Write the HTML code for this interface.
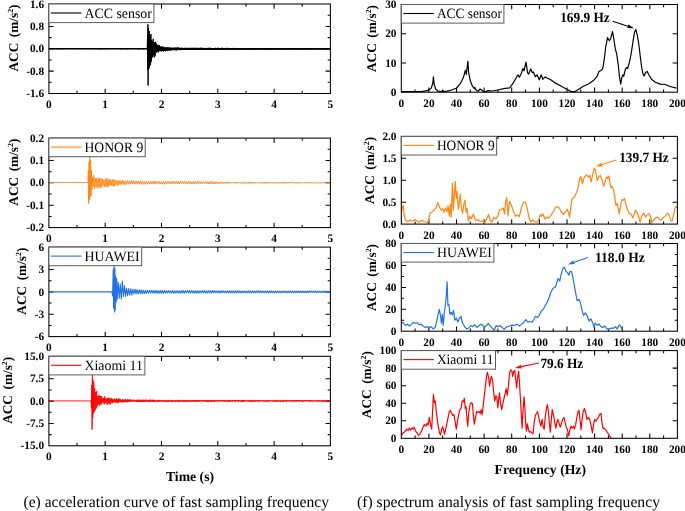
<!DOCTYPE html><html><head><meta charset="utf-8"><title>chart</title><style>html,body{margin:0;padding:0;background:#fff}svg{display:block}text{font-family:"Liberation Serif", serif;fill:#000;text-rendering:geometricPrecision}</style></head><body>
<svg width="685" height="511" viewBox="0 0 685 511">
<rect width="685" height="511" fill="#fff"/>
<clipPath id="cl0"><rect x="48.9" y="4" width="281.5" height="89.5"/></clipPath>
<path d="M105.2 93.5v-4.8M105.2 4v4.8M161.5 93.5v-4.8M161.5 4v4.8M217.8 93.5v-4.8M217.8 4v4.8M274.1 93.5v-4.8M274.1 4v4.8M77 93.5v-2.7M77 4v2.7M133.3 93.5v-2.7M133.3 4v2.7M189.7 93.5v-2.7M189.7 4v2.7M246 93.5v-2.7M246 4v2.7M302.2 93.5v-2.7M302.2 4v2.7M48.9 26.4h4.8M330.4 26.4h-4.8M48.9 48.8h4.8M330.4 48.8h-4.8M48.9 71.1h4.8M330.4 71.1h-4.8M48.9 15.2h2.7M330.4 15.2h-2.7M48.9 37.6h2.7M330.4 37.6h-2.7M48.9 59.9h2.7M330.4 59.9h-2.7M48.9 82.3h2.7M330.4 82.3h-2.7" stroke="#000" stroke-width="1.05" fill="none"/>
<line x1="48.9" y1="48.8" x2="330.4" y2="48.8" stroke="#000" stroke-width="1.5"/>
<polyline points="48.9,48.8 48.9,48.3 49.3,49 49.7,48.5 50.1,49.1 50.5,48.4 50.9,49.1 51.3,48.4 51.7,49 52.1,48.3 52.5,49.2 52.9,48.5 53.3,49.1 53.7,48.5 54.1,49.2 54.5,48.4 54.9,49 55.3,48.4 55.7,49 56.1,48.5 56.5,49.2 56.9,48.3 57.3,49.1 57.7,48.5 58.1,49.1 58.5,48.3 58.9,49.1 59.3,48.3 59.7,49.2 60.1,48.4 60.5,49.1 60.9,48.4 61.3,49.1 61.7,48.3 62.1,49.1 62.5,48.4 62.9,49.2 63.3,48.5 63.7,49.1 64.1,48.4 64.5,49.2 64.9,48.5 65.3,49 65.7,48.3 66.1,49.1 66.5,48.5 66.9,49 67.3,48.5 67.7,49.1 68.1,48.5 68.5,49 68.9,48.4 69.3,49.1 69.7,48.5 70.1,49 70.5,48.4 70.9,49.1 71.3,48.3 71.7,49.1 72.1,48.5 72.5,49.1 72.9,48.3 73.3,49.1 73.7,48.5 74.1,49 74.5,48.4 74.9,49.1 75.3,48.4 75.7,49 76.1,48.4 76.5,49.1 76.9,48.4 77.3,49.2 77.7,48.3 78.1,49 78.5,48.5 78.9,49.1 79.3,48.4 79.7,49.2 80.1,48.4 80.5,49 80.9,48.5 81.3,49.1 81.7,48.5 82.1,49.1 82.5,48.4 82.9,49 83.3,48.4 83.7,49.1 84.1,48.4 84.5,49.1 84.9,48.5 85.3,49.2 85.7,48.5 86.1,49 86.5,48.5 86.9,49 87.3,48.5 87.7,49.1 88.1,48.4 88.5,49.1 88.9,48.3 89.3,49 89.7,48.4 90.1,49.2 90.5,48.4 90.9,49.1 91.3,48.4 91.7,49.1 92.1,48.4 92.5,49.1 92.9,48.4 93.3,49.1 93.7,48.3 94.1,49.1 94.5,48.3 94.9,49.1 95.3,48.5 95.7,49 96.1,48.5 96.5,49 96.9,48.4 97.3,49 97.7,48.5 98.1,49.2 98.5,48.3 98.9,49.2 99.3,48.5 99.7,49.1 100.1,48.3 100.5,49.1 100.9,48.4 101.3,49.2 101.7,48.3 102.1,49.1 102.5,48.3 102.9,49.1 103.3,48.5 103.7,49.1 104.1,48.4 104.5,49.1 104.9,48.3 105.3,49.1 105.7,48.4 106.1,49.2 106.5,48.3 106.9,49 107.3,48.4 107.7,49.2 108.1,48.4 108.5,49 108.9,48.3 109.3,49.2 109.7,48.3 110.1,49 110.5,48.3 110.9,49 111.3,48.5 111.7,49.1 112.1,48.3 112.5,49 112.9,48.5 113.3,49.1 113.7,48.4 114.1,49.1 114.5,48.4 114.9,49.1 115.3,48.4 115.7,49.1 116.1,48.3 116.5,49.1 116.9,48.5 117.3,49 117.7,48.4 118.1,49 118.5,48.4 118.9,49 119.3,48.5 119.7,49.1 120.1,48.4 120.5,49.2 120.9,48.5 121.3,49.2 121.7,48.5 122.1,49 122.5,48.4 122.9,49.2 123.3,48.5 123.7,49 124.1,48.5 124.5,49.1 124.9,48.4 125.3,49.1 125.7,48.3 126.1,49 126.5,48.4 126.9,49.2 127.3,48.3 127.7,49.1 128.1,48.4 128.5,49.1 128.9,48.4 129.3,49 129.7,48.5 130.1,49.2 130.5,48.3 130.9,49.1 131.3,48.5 131.7,49 132.1,48.4 132.5,49.2 132.9,48.5 133.3,49 133.7,48.5 134.1,49.1 134.5,48.5 134.9,49 135.3,48.4 135.7,49 136.1,48.4 136.5,49 136.9,48.3 137.3,49.2 137.7,48.5 138.1,49.2 138.5,48.5 138.9,49.1 139.3,48.5 139.7,49.1 140.1,48.4 140.5,49.1 140.9,48.5 141.3,49.1 141.7,48.5 142.1,49 142.5,48.3 142.9,49.1 143.3,48.3 143.7,49.2 144.1,48.3 144.5,49 144.9,48.5 145.3,49 145.7,48.4 146.1,49.1 146.5,48.5 146.9,49.1 147.2,48.8 147.5,36 147.7,70 147.9,24.4 148.1,85.5 148.3,28 148.6,62 148.8,32 149.2,68.3 149.5,31 149.8,66 150.2,36.2 150.6,64.6 150.9,34 151.3,61.7 151.7,40 152.1,57.6 152.5,41.1 152.8,57.1 153.2,38.8 153.6,54.9 154,42.2 154.4,57.3 154.7,42.3 155.1,56.1 155.5,41.9 155.9,52.3 156.3,43.5 156.6,52.4 157,46.1 157.4,52 157.8,44.7 158.2,52.4 158.5,45.1 158.9,51.4 159.3,45.3 159.7,50.9 160.1,46.2 160.4,50.7 160.8,47.2 161.2,51.4 161.6,46.7 162,51.1 162.3,46.6 162.7,50.8 163.1,46.7 163.5,51.5 163.9,47.6 164.2,51.1 164.6,47.4 165,50.9 165.4,47.3 165.7,51.2 166,47.7 166.3,50.2 166.6,47.8 166.9,51 167.2,47.3 167.5,50.4 167.8,47.9 168.1,50.4 168.4,47.7 168.7,50.3 169,47.5 169.3,50.3 169.6,47.6 169.9,50.5 170.2,47.5 170.5,50.4 170.8,48 171.1,50.2 171.4,47.8 171.7,50 172,48 172.3,50.2 172.6,47.7 172.9,50.2 173.2,47.7 173.5,49.8 173.8,48 174.1,50.2 174.4,47.7 174.7,50 175,47.9 175.3,50.1 175.6,47.7 175.9,50.3 176.2,47.7 176.5,50.3 176.8,47.8 177.1,50.2 177.4,47.6 177.7,50 178,47.7 178.3,49.9 178.6,47.8 178.9,49.8 179.2,47.7 179.5,50 179.8,47.9 180.1,50.1 180.4,48 180.7,50.1 181,47.9 181.3,49.7 181.6,47.9 181.9,50 182.2,47.7 182.5,49.9 182.8,48 183.1,49.9 183.4,48 183.7,50 184,48 184.3,50 184.6,47.8 184.9,49.6 185.2,48 185.5,49.6 185.8,48 186.1,49.7 186.4,47.9 186.7,49.8 187,47.9 187.3,49.8 187.6,48 187.9,49.7 188.2,47.8 188.5,49.9 188.8,48 189.1,49.6 189.4,47.9 189.7,49.7 190,48 190.3,49.7 190.6,47.9 190.9,49.8 191.2,47.8 191.5,49.9 191.8,48 192.1,49.7 192.4,47.9 192.7,49.9 193,47.9 193.3,49.8 193.6,47.8 193.9,49.8 194.2,48 194.5,49.7 194.8,47.9 195.1,49.7 195.4,47.8 195.7,49.9 196,47.9 196.3,49.7 196.6,48 196.9,49.7 197.2,48 197.5,49.6 197.8,47.9 198.1,49.7 198.4,47.9 198.7,49.8 199,47.9 199.3,49.7 199.6,48.1 199.9,49.5 200.2,47.9 200.5,49.6 200.8,47.8 201.1,49.8 201.4,47.9 201.7,49.5 202,47.8 202.3,49.6 202.6,48.1 202.9,49.7 203.2,48 203.5,49.5 203.8,47.9 204.1,49.6 204.4,48 204.7,49.6 205,48 205.3,49.5 205.6,48.1 205.9,49.6 206.2,47.9 206.5,49.7 206.8,47.9 207.1,49.6 207.4,48 207.7,49.8 208,48 208.3,49.6 208.6,47.9 208.9,49.6 209.2,47.9 209.5,49.6 209.8,47.8 210.1,49.5 210.4,48 210.7,49.6 211,47.9 211.3,49.5 211.6,48.1 211.9,49.7 212.2,48 212.5,49.5 212.8,48 213.1,49.6 213.4,48 213.7,49.5 214,48.1 214.3,49.7 214.6,48.1 214.9,49.6 215.2,47.9 215.5,49.7 215.8,47.9 216.1,49.5 216.4,48.1 216.7,49.7 217,48 217.3,49.6 217.6,47.9 217.9,49.7 218.2,47.9 218.5,49.5 218.8,47.9 219.1,49.7 219.4,48 219.7,49.7 220,48 220.3,49.6 220.6,48.1 220.9,49.7 221.2,47.9 221.5,49.6 221.8,47.9 222.1,49.6 222.4,47.9 222.7,49.5 223,48.1 223.3,49.5 223.6,48.1 223.9,49.6 224.2,48 224.5,49.5 224.8,48.1 225.1,49.6 225.4,48 225.7,49.6 226,47.9 226.3,49.5 226.6,47.9 226.9,49.5 227.2,48 227.5,49.4 227.8,48.1 228.1,49.4 228.4,47.9 228.7,49.6 229,48 229.3,49.6 229.6,48 229.9,49.6 230.2,48 230.5,49.7 230.8,48 231.1,49.6 231.4,48 231.7,49.6 232,48.1 232.3,49.5 232.6,48 232.9,49.5 233.2,48 233.5,49.6 233.8,47.9 234.1,49.6 234.4,48.1 234.7,49.4 235,48.1 235.3,49.5 235.6,48.2 235.9,49.5 236.2,48.1 236.5,49.6 236.8,48.1 237.1,49.4 237.4,48 237.7,49.6 238,48.1 238.3,49.5 238.6,48 238.9,49.7 239.2,48 239.5,49.5 239.8,48 240.1,49.4 240.4,48.1 240.7,49.4 241,48.1 241.3,49.4 241.6,48 241.9,49.4 242.2,48.1 242.5,49.5 242.8,48.1 243.1,49.5 243.4,48.1 243.7,49.5 244,48.2 244.3,49.4 244.6,48.1 244.9,49.4 245.2,48.1 245.5,49.5 245.8,48 246.1,49.5 246.4,48.1 246.7,49.4 247,48.1 247.3,49.6 247.6,48.1 247.9,49.5 248.2,48.1 248.5,49.6 248.8,48.1 249.1,49.4 249.4,48 249.7,49.5 250,48.1 250.3,49.6 250.6,48.1 250.9,49.4 251.2,48.1 251.5,49.5 251.8,48.1 252.1,49.4 252.4,48 252.7,49.5 253,48.2 253.3,49.5 253.6,48 253.9,49.4 254.2,48.1 254.5,49.5 254.8,48.1 255.1,49.4 255.4,48 255.7,49.4 256,48.1 256.3,49.4 256.6,48 256.9,49.4 257.2,48 257.5,49.4 257.8,48 258.1,49.4 258.4,48.2 258.7,49.5 259,48 259.3,49.3 259.6,48.1 259.9,49.4 260.2,48 260.5,49.4 260.8,48.1 261.1,49.5 261.4,48.1 261.7,49.4 262,48.2 262.3,49.5 262.6,48.1 262.9,49.5 263.2,48.2 263.5,49.5 263.8,48.2 264.1,49.4 264.4,48.1 264.7,49.5 265,48.1 265.3,49.5 265.6,48 265.9,49.4 266.2,48.1 266.5,49.4 266.8,48 267.1,49.4 267.4,48.1 267.7,49.5 268,48 268.3,49.5 268.6,48.1 268.9,49.5 269.2,48 269.5,49.5 269.8,48.1 270.1,49.3 270.4,48 270.7,49.6 271,48.1 271.3,49.4 271.6,48.2 271.9,49.4 272.2,48.1 272.5,49.4 272.8,48 273.1,49.4 273.4,48 273.7,49.5 274,48.1 274.3,49.5 274.6,48 274.9,49.5 275.2,48.2 275.5,49.4 275.8,48.1 276.1,49.5 276.4,48.2 276.7,49.5 277,48.1 277.3,49.3 277.6,48.2 277.9,49.5 278.2,48.2 278.5,49.3 278.8,48.1 279.1,49.5 279.4,48.1 279.7,49.3 280,48.1 280.3,49.3 280.6,48.2 280.9,49.5 281.2,48.2 281.5,49.5 281.8,48 282.1,49.4 282.4,48 282.7,49.4 283,48 283.3,49.4 283.6,48.2 283.9,49.3 284.2,48 284.5,49.5 284.8,48.2 285.1,49.5 285.4,48.1 285.7,49.5 286,48 286.3,49.5 286.6,48.2 286.9,49.4 287.2,48.2 287.5,49.3 287.8,48.2 288.1,49.4 288.4,48.2 288.7,49.3 289,48.2 289.3,49.5 289.6,48 289.9,49.3 290.2,48.2 290.5,49.4 290.8,48.2 291.1,49.4 291.4,48.1 291.7,49.5 292,48.1 292.3,49.4 292.6,48.1 292.9,49.3 293.2,48.1 293.5,49.4 293.8,48.2 294.1,49.3 294.4,48.2 294.7,49.3 295,48.1 295.3,49.3 295.6,48.1 295.9,49.3 296.2,48.2 296.5,49.3 296.8,48 297.1,49.5 297.4,48.2 297.7,49.4 298,48.1 298.3,49.3 298.6,48 298.9,49.4 299.2,48.1 299.5,49.5 299.8,48.1 300.1,49.3 300.4,48.2 300.7,49.5 301,48.2 301.3,49.5 301.6,48.2 301.9,49.5 302.2,48.1 302.5,49.4 302.8,48.2 303.1,49.4 303.4,48.1 303.7,49.3 304,48.2 304.3,49.3 304.6,48.1 304.9,49.4 305.2,48.1 305.5,49.4 305.8,48.1 306.1,49.4 306.4,48.2 306.7,49.3 307,48.2 307.3,49.5 307.6,48.2 307.9,49.4 308.2,48.3 308.5,49.3 308.8,48.2 309.1,49.3 309.4,48.2 309.7,49.3 310,48.2 310.3,49.4 310.6,48.1 310.9,49.4 311.2,48.2 311.5,49.5 311.8,48.1 312.1,49.4 312.4,48.1 312.7,49.3 313,48.2 313.3,49.4 313.6,48.1 313.9,49.4 314.2,48.1 314.5,49.3 314.8,48.2 315.1,49.4 315.4,48.1 315.7,49.3 316,48.1 316.3,49.4 316.6,48.1 316.9,49.3 317.2,48.2 317.5,49.3 317.8,48.3 318.1,49.3 318.4,48.2 318.7,49.3 319,48.3 319.3,49.3 319.6,48.1 319.9,49.4 320.2,48.2 320.5,49.3 320.8,48.2 321.1,49.3 321.4,48.2 321.7,49.4 322,48.3 322.3,49.3 322.6,48.2 322.9,49.4 323.2,48.3 323.5,49.3 323.8,48.1 324.1,49.4 324.4,48.2 324.7,49.3 325,48.3 325.3,49.4 325.6,48.2 325.9,49.3 326.2,48.1 326.5,49.4 326.8,48.2 327.1,49.4 327.4,48.1 327.7,49.4 328,48.2 328.3,49.3 328.6,48.1 328.9,49.4 329.2,48.3 329.5,49.3 329.8,48.1 330.1,49.3 330.4,48.1 330.4,48.8" fill="none" stroke="#000" stroke-width="1.0" stroke-linejoin="round" clip-path="url(#cl0)"/>
<rect x="48.9" y="4" width="281.5" height="89.5" fill="none" stroke="#000" stroke-width="1.05"/>
<rect x="48.9" y="4" width="105" height="18.6" fill="#fff" stroke="#5c5c5c" stroke-width="1"/>
<line x1="50.9" y1="13" x2="81.5" y2="13" stroke="#000" stroke-width="1.1"/>
<clipPath id="cl1"><rect x="48.9" y="138.1" width="281.5" height="89.5"/></clipPath>
<path d="M105.2 227.6v-4.8M105.2 138.1v4.8M161.5 227.6v-4.8M161.5 138.1v4.8M217.8 227.6v-4.8M217.8 138.1v4.8M274.1 227.6v-4.8M274.1 138.1v4.8M77 227.6v-2.7M77 138.1v2.7M133.3 227.6v-2.7M133.3 138.1v2.7M189.7 227.6v-2.7M189.7 138.1v2.7M246 227.6v-2.7M246 138.1v2.7M302.2 227.6v-2.7M302.2 138.1v2.7M48.9 160.5h4.8M330.4 160.5h-4.8M48.9 182.8h4.8M330.4 182.8h-4.8M48.9 205.2h4.8M330.4 205.2h-4.8M48.9 149.3h2.7M330.4 149.3h-2.7M48.9 171.7h2.7M330.4 171.7h-2.7M48.9 194h2.7M330.4 194h-2.7M48.9 216.4h2.7M330.4 216.4h-2.7" stroke="#000" stroke-width="1.05" fill="none"/>
<polyline points="48.9,182.5 88,182.5 88.3,170 88.6,203.5 89,162 89.4,200 89.8,150 90.3,197 90.7,160 91.1,196 91.5,170 91.9,190 92.4,177.1 93.1,186.6 93.8,175.3 94.6,189.1 95.3,178.1 96,187 96.7,177.9 97.4,188.2 98.2,178.2 98.9,187.2 99.6,178.4 100.3,188.2 101,178.2 101.8,187.3 102.5,179.1 103.2,185.6 103.9,179.8 104.6,186.5 105.4,178.8 106.1,187 106.8,178.2 107.5,187.3 108.2,179.3 109,186.5 109.7,179.3 110.4,185.2 111.1,179.7 111.8,185.7 112.6,179.3 113.3,186.5 114,179.6 114.7,186.1 115.4,180 116.2,184.6 116.9,180.3 117.6,185.8 118.3,180.7 119,184.7 119.8,180.5 120.5,184.4 121.2,180.6 121.9,184.5 122.6,180.2 123.4,184.1 124.1,181 124.8,185.1 125.5,180.8 126.5,184.3 127.4,180.5 128.4,184.4 129.3,180.6 130.3,183.9 131.2,180.7 132.2,184 133.1,180.6 134.1,183.9 135,181.2 136,184.3 136.9,180.9 137.9,183.8 138.8,181.1 139.8,184.2 140.7,180.7 141.7,184.3 142.6,181.2 143.6,184.4 144.5,181.4 145.5,184.3 146.4,181.4 147.4,184.2 148.3,181.5 149.3,183.8 150.2,181.2 151.2,184 152.1,181.3 153.1,183.9 154,181.1 155,184.2 155.9,181.3 156.9,183.6 157.8,181.4 158.8,184.3 159.7,181.5 160.7,183.8 161.6,181.6 162.6,184.2 163.5,181.5 164.5,184.3 165.4,181.5 166.4,184.1 167.3,181.2 168.3,183.6 169.2,181.2 170.2,183.9 171.1,181.7 172.1,184.1 173,181.2 174,183.6 174.9,181.4 175.9,183.7 176.8,181.2 177.8,184 178.7,181.2 179.7,183.7 180.6,181.2 181.6,183.5 182.5,181.2 183.5,183.7 184.4,181.2 185.4,184 186.3,181.7 187.3,184.1 188.2,181.3 189.2,183.7 190.1,181.4 191.1,184.2 192,181.8 193,184.1 193.9,181.2 194.9,183.9 195.8,181.6 196.8,183.6 197.7,181.3 198.7,183.9 199.6,181.2 200.6,183.8 201.5,181.7 202.5,183.6 203.4,181.8 204.4,183.6 205.3,181.8 206.3,183.6 207.2,181.5 208.2,184 209.1,181.7 210.1,183.9 211,181.3 212,183.8 212.9,181.8 213.9,184 214.8,181.6 215.8,183.8 216.7,181.7 217.7,183.9 218.6,182 219.6,183.8 220.5,181.9 221.5,183.6 222.4,181.8 223.4,183.5 224.3,181.9 225.3,183.7 226.2,181.9 227.2,183.6 228.1,181.9 229.1,183.4 230,182.1 231,183.2 231.9,182.2 232.9,183.2 233.8,182 234.8,183.5 235.7,182 236.7,183.4 237.6,182.1 238.6,183.3 239.5,182.1 240.5,183.5 241.4,182 242.4,183.4 243.3,181.9 244.3,183.6 245.2,182.1 246.2,183.6 247.1,182.1 248.1,183.5 249,182 250,183.6 250.9,182 251.9,183.5 252.8,182.1 253.8,183.4 254.7,182 255.7,183.3 256.6,182 257.6,183.2 258.5,182.2 259.5,183.3 260.4,182.1 261.4,183.4 262.3,182.1 263.3,183.6 264.2,182.1 265.2,183.4 266.1,182 267.1,183.6 268,182.2 269,183.4 269.9,182.1 270.9,183.2 271.8,182.1 272.8,183.5 273.7,182.2 274.7,183.4 275.6,182 276.6,183.3 277.5,182 278.5,183.5 279.4,182.2 280.4,183.3 281.3,182 282.3,183.4 283.2,182.1 284.2,183.4 285.1,182.1 286.1,183.3 287,182 288,183.4 288.9,182.1 289.9,183.1 290.8,182 291.8,183.2 292.7,182.1 293.7,183.3 294.6,182.1 295.6,183.4 296.5,182.2 297.5,183.4 298.4,182.1 299.4,183.5 300.3,182.1 301.3,183.2 302.2,182.2 303.2,183.1 304.1,182.2 305.1,183.5 306,182.2 307,183.2 307.9,182.2 308.9,183.3 309.8,182.1 310.8,183.3 311.7,182.2 312.7,183.4 313.6,182.2 314.6,183.3 315.5,182.3 316.5,183.2 317.4,182.3 318.4,183.2 319.3,182.1 320.3,183.4 321.2,182.2 322.2,183.4 323.1,182.2 324.1,183.2 325,182.3 326,183.3 326.9,182.3 327.9,183.5 328.8,182.2 329.8,183.1 330.4,182.5" fill="none" stroke="#ff8510" stroke-width="0.85" stroke-linejoin="round" clip-path="url(#cl1)"/>
<rect x="48.9" y="138.1" width="281.5" height="89.5" fill="none" stroke="#000" stroke-width="1.05"/>
<rect x="48.9" y="138.1" width="96.3" height="18.6" fill="#fff" stroke="#5c5c5c" stroke-width="1"/>
<line x1="50.9" y1="147.1" x2="81.5" y2="147.1" stroke="#ff8510" stroke-width="1.1"/>
<clipPath id="cl2"><rect x="48.9" y="247.1" width="281.5" height="89.5"/></clipPath>
<path d="M105.2 336.6v-4.8M105.2 247.1v4.8M161.5 336.6v-4.8M161.5 247.1v4.8M217.8 336.6v-4.8M217.8 247.1v4.8M274.1 336.6v-4.8M274.1 247.1v4.8M77 336.6v-2.7M77 247.1v2.7M133.3 336.6v-2.7M133.3 247.1v2.7M189.7 336.6v-2.7M189.7 247.1v2.7M246 336.6v-2.7M246 247.1v2.7M302.2 336.6v-2.7M302.2 247.1v2.7M48.9 269.5h4.8M330.4 269.5h-4.8M48.9 291.9h4.8M330.4 291.9h-4.8M48.9 314.2h4.8M330.4 314.2h-4.8M48.9 258.3h2.7M330.4 258.3h-2.7M48.9 280.7h2.7M330.4 280.7h-2.7M48.9 303h2.7M330.4 303h-2.7M48.9 325.4h2.7M330.4 325.4h-2.7" stroke="#000" stroke-width="1.05" fill="none"/>
<polyline points="48.9,291.9 112,291.9 112.6,296 113.2,270 113.6,308 114,262 114.5,312 114.9,268 115.3,310 115.7,276 116.2,302 116.7,278.6 117.1,299.7 118.2,282.3 119.2,298.5 120.2,284 121.3,299 122.3,281 123.4,296.5 124.4,285.6 125.5,296.5 126.5,288.2 127.6,295.6 128.6,288.5 129.7,295.1 130.8,288.7 131.8,295.1 132.9,289 133.9,294 135,289.2 136,293.8 137.1,289.5 138.1,294 139.2,289.8 140.2,293.6 141.3,289.7 142.3,293.8 143.4,290.3 144.4,293.5 145.5,290.3 146.5,293.2 147.6,290.4 148.6,293.1 149.7,290.3 150.7,293.1 151.8,290.4 152.8,293 153.9,290.6 154.9,293.3 156,290.3 157,293.3 158.1,290.7 159.1,293.2 160.2,290.5 161.2,293.2 162.3,290.5 163.3,293.2 164.4,290.4 165.4,293.1 166.5,290.6 167.5,292.9 168.6,290.6 169.6,292.9 170.7,290.7 171.7,292.9 172.8,290.6 173.8,293.2 174.9,290.7 175.9,292.9 177,290.7 178,293 179.1,290.7 180.1,293.2 181.2,290.7 182.2,293 183.3,290.5 184.3,293.2 185.4,290.8 186.4,292.8 187.5,290.4 188.5,292.9 189.6,290.6 190.6,293.1 191.7,290.5 192.7,292.9 193.8,290.8 194.8,293.2 195.9,290.7 196.9,293.1 198,290.8 199,293 200.1,290.8 201.1,292.8 202.2,290.7 203.2,292.7 204.3,290.6 205.3,293.1 206.4,290.8 207.4,293.1 208.5,290.6 209.5,292.9 210.6,290.8 211.6,293 212.7,290.6 213.7,292.8 214.8,290.7 215.8,292.7 216.9,290.9 217.9,292.9 219,290.8 220,292.9 221.1,290.8 222.1,292.8 223.2,290.8 224.2,292.8 225.3,291 226.3,292.8 227.4,290.8 228.4,292.8 229.5,290.7 230.5,292.9 231.6,291 232.6,292.8 233.7,290.9 234.7,293 235.8,290.8 236.8,292.8 237.9,290.7 238.9,292.8 240,290.9 241,292.9 242.1,291 243.1,292.8 244.2,291 245.2,292.8 246.3,291 247.3,292.7 248.4,290.8 249.4,292.9 250.5,291 251.5,292.6 252.6,290.9 253.6,292.7 254.7,291 255.7,292.8 256.8,290.9 257.8,292.8 258.9,290.9 259.9,292.7 261,290.9 262,292.7 263.1,291.1 264.1,292.8 265.2,291 266.2,292.6 267.3,290.9 268.3,292.8 269.4,291.1 270.4,292.8 271.5,290.9 272.5,292.7 273.6,291.1 274.6,292.8 275.7,291 276.7,292.7 277.8,291.1 278.8,292.7 279.9,291.1 280.9,292.7 282,291 283,292.6 284.1,291.1 285.1,292.6 286.2,291 287.2,292.7 288.3,291 289.3,292.7 290.4,291.1 291.4,292.5 292.5,291 293.5,292.7 294.6,291.1 295.6,292.6 296.7,291.1 297.7,292.6 298.8,291 299.8,292.6 300.9,291.1 301.9,292.6 303,291 304,292.6 305.1,291.1 306.1,292.6 307.2,291.2 308.2,292.6 309.3,290.9 310.3,292.4 311.4,291.2 312.4,292.4 313.5,291.1 314.5,292.4 315.6,291.2 316.6,292.6 317.7,291.2 318.7,292.4 319.8,291.1 320.8,292.5 321.9,291.1 322.9,292.5 324,291 325,292.6 326.1,291.1 327.1,292.5 328.2,291.2 329.2,292.6 330.3,291.2 330.4,291.9" fill="none" stroke="#2272e2" stroke-width="1.1" stroke-linejoin="round" clip-path="url(#cl2)"/>
<rect x="48.9" y="247.1" width="281.5" height="89.5" fill="none" stroke="#000" stroke-width="1.05"/>
<rect x="48.9" y="247.1" width="92.8" height="18.6" fill="#fff" stroke="#5c5c5c" stroke-width="1"/>
<line x1="50.9" y1="256.1" x2="81.5" y2="256.1" stroke="#2272e2" stroke-width="1.1"/>
<clipPath id="cl3"><rect x="48.9" y="356.3" width="281.5" height="89.5"/></clipPath>
<path d="M105.2 445.8v-4.8M105.2 356.3v4.8M161.5 445.8v-4.8M161.5 356.3v4.8M217.8 445.8v-4.8M217.8 356.3v4.8M274.1 445.8v-4.8M274.1 356.3v4.8M77 445.8v-2.7M77 356.3v2.7M133.3 445.8v-2.7M133.3 356.3v2.7M189.7 445.8v-2.7M189.7 356.3v2.7M246 445.8v-2.7M246 356.3v2.7M302.2 445.8v-2.7M302.2 356.3v2.7M48.9 378.7h4.8M330.4 378.7h-4.8M48.9 401.1h4.8M330.4 401.1h-4.8M48.9 423.4h4.8M330.4 423.4h-4.8M48.9 367.5h2.7M330.4 367.5h-2.7M48.9 389.9h2.7M330.4 389.9h-2.7M48.9 412.2h2.7M330.4 412.2h-2.7M48.9 434.6h2.7M330.4 434.6h-2.7" stroke="#000" stroke-width="1.05" fill="none"/>
<polyline points="48.9,400.9 91,400.9 91.4,408 91.8,385 92.1,429.5 92.4,375 92.7,418 93,380 93.4,413.6 93.8,382.2 94.2,412 94.7,388.4 95.2,410.2 95.7,391.9 96.2,408.5 96.7,391.1 97.2,406.4 97.7,396.2 98.2,404 98.7,395.2 99.2,405.6 99.7,395.7 100.2,404.5 100.7,396.1 101.2,404.7 101.7,396.1 102.2,402.5 102.7,398.2 103.2,402.8 103.7,398 104.2,404.5 104.7,396.4 105.2,403.3 105.7,398.1 106.2,402.7 106.7,398.8 107.2,404.8 107.7,398.1 108.2,403.1 108.7,397.8 109.2,404.2 109.7,397.7 110.2,404.2 110.7,399.1 111.2,402.3 111.7,398 112.2,403.4 112.7,399.2 113.2,402.7 113.7,399.3 114.2,402.1 114.7,398.7 115.2,402.7 115.7,399.1 116.2,402.6 116.7,398.4 117.2,402.7 117.7,399.6 118.2,403 118.7,398.4 119.2,402.1 119.7,398.9 120.2,402.1 120.7,399.3 121.2,402.2 121.7,400.1 122.2,402.3 122.7,399.3 123.2,402.3 123.7,399.7 124.2,402.2 124.7,399.4 125.2,401.7 125.6,399.4 126,401.8 126.4,400.1 126.8,402.2 127.2,399.2 127.6,402.1 128,400 128.4,401.7 128.8,399.5 129.2,401.9 129.6,399.6 130,401.8 130.4,399.5 130.8,401.5 131.2,400.3 131.6,401.3 132,400.2 132.4,401.3 132.8,399.5 133.2,401.9 133.6,400.4 134,401.5 134.4,399.9 134.8,401.3 135.2,400.1 135.6,401.4 136,399.8 136.4,401.9 136.8,399.9 137.2,402 137.6,399.9 138,401.3 138.4,399.9 138.8,402.1 139.2,399.6 139.6,401.9 140,400.2 140.4,401.8 140.8,399.8 141.2,402 141.6,400.4 142,401.7 142.4,399.8 142.8,402 143.2,399.7 143.6,401.9 144,400.2 144.4,401.9 144.8,399.7 145.2,401.7 145.6,399.8 146,401.3 146.4,399.8 146.8,401.6 147.2,400.3 147.6,401.7 148,400.4 148.4,401.7 148.8,399.9 149.2,401.7 149.6,399.7 150,401.7 150.4,399.9 150.8,401.3 151.2,400.3 151.6,401.6 152,399.7 152.4,401.8 152.8,399.9 153.2,401.8 153.6,399.9 154,401.3 154.4,399.8 154.8,401.9 155.2,400.4 155.6,401.6 156,400.5 156.4,401.7 156.8,400.4 157.2,401.5 157.6,400.3 158,401.4 158.4,400.1 158.8,401.9 159.2,399.9 159.6,401.3 160,400.4 160.4,401.3 160.8,400 161.2,401.5 161.6,400.4 162,401.5 162.4,400.4 162.8,401.6 163.2,400.3 163.6,401.5 164,400 164.4,401.3 164.8,400.5 165.2,401.9 165.6,400.5 166,401.3 166.4,400.3 166.8,401.9 167.2,400.4 167.6,401.8 168,400.5 168.4,401.4 168.8,399.9 169.2,401.8 169.6,400.3 170,401.5 170.4,400.4 170.8,401.3 171.2,400 171.6,401.9 172,400.5 172.4,401.9 172.8,400.4 173.2,401.8 173.6,400.4 174,401.4 174.4,400.4 174.8,401.5 175.2,400.4 175.6,401.8 176,400.3 176.4,401.7 176.8,400.5 177.2,401.4 177.6,400.2 178,401.5 178.4,399.9 178.8,401.9 179.2,400.3 179.6,401.6 180,400.4 180.4,401.5 180.8,400 181.2,401.6 181.6,400.4 182,401.5 182.4,399.9 182.8,401.3 183.2,400.4 183.6,401.8 184,400.2 184.4,401.6 184.8,400.4 185.2,401.7 185.6,400.1 186,401.6 186.4,400.5 186.8,401.8 187.2,400 187.6,401.5 188,400.5 188.4,401.5 188.8,400.2 189.2,401.3 189.6,400.4 190,401.8 190.4,400.5 190.8,401.7 191.2,400.1 191.6,401.3 192,400.2 192.4,401.3 192.8,400 193.2,401.3 193.6,400 194,401.8 194.4,400.2 194.8,401.6 195.2,400.3 195.6,401.3 196,400.4 196.4,401.9 196.8,400.1 197.2,401.5 197.6,400.2 198,401.4 198.4,400.2 198.8,401.8 199.2,400.1 199.6,401.3 200,400.1 200.4,401.4 200.8,400.5 201.2,401.4 201.6,400.3 202,401.5 202.4,400.1 202.8,401.3 203.2,400.2 203.6,401.3 204,400.1 204.4,401.3 204.8,400.4 205.2,401.5 205.6,400.2 206,401.8 206.4,400.4 206.8,401.6 207.2,400.3 207.6,401.8 208,400 208.4,401.8 208.8,400.4 209.2,401.7 209.6,400.5 210,401.6 210.4,400.3 210.8,401.6 211.2,400.3 211.6,401.8 212,400.2 212.4,401.2 212.8,400.1 213.2,401.4 213.6,400.1 214,401.7 214.4,400 214.8,401.8 215.2,400.5 215.6,401.3 216,400.4 216.4,401.3 216.8,400.5 217.2,401.7 217.6,400.3 218,401.5 218.4,400.3 218.8,401.2 219.2,400.4 219.6,401.2 220,400 220.4,401.4 220.8,400.4 221.2,401.4 221.6,400.3 222,401.3 222.4,400.1 222.8,401.2 223.2,400.2 223.6,401.5 224,400.5 224.4,401.4 224.8,400.1 225.2,401.7 225.6,400.2 226,401.4 226.4,400.5 226.8,401.3 227.2,400.2 227.6,401.6 228,400.4 228.4,401.6 228.8,400.2 229.2,401.8 229.6,400.1 230,401.5 230.4,400.4 230.8,401.4 231.2,400.2 231.6,401.2 232,400.3 232.4,401.7 232.8,400 233.2,401.2 233.6,400.5 234,401.2 234.4,400.3 234.8,401.6 235.2,400 235.6,401.7 236,400.1 236.4,401.2 236.8,400.5 237.2,401.3 237.6,400.1 238,401.7 238.4,400.2 238.8,401.2 239.2,400.1 239.6,401.3 240,400.4 240.4,401.5 240.8,400.5 241.2,401.6 241.6,400.3 242,401.7 242.4,400 242.8,401.8 243.2,400.2 243.6,401.7 244,400 244.4,401.2 244.8,400.2 245.2,401.3 245.6,400.4 246,401.4 246.4,400.4 246.8,401.2 247.2,400.5 247.6,401.4 248,400.3 248.4,401.4 248.8,400.4 249.2,401.5 249.6,400.3 250,401.7 250.4,400.5 250.8,401.5 251.2,400 251.6,401.7 252,400.5 252.4,401.6 252.8,400.2 253.2,401.4 253.6,400.5 254,401.6 254.4,400.2 254.8,401.5 255.2,400 255.6,401.3 256,400 256.4,401.2 256.8,400.1 257.2,401.7 257.6,400.5 258,401.3 258.4,400.1 258.8,401.5 259.2,400.3 259.6,401.3 260,400.1 260.4,401.3 260.8,400.6 261.2,401.4 261.6,400.5 262,401.2 262.4,400.2 262.8,401.3 263.2,400.5 263.6,401.4 264,400.1 264.4,401.4 264.8,400.5 265.2,401.6 265.6,400.4 266,401.2 266.4,400.3 266.8,401.8 267.2,400.4 267.6,401.6 268,400.5 268.4,401.4 268.8,400.2 269.2,401.2 269.6,400.4 270,401.6 270.4,400.5 270.8,401.2 271.2,400.5 271.6,401.2 272,400.4 272.4,401.4 272.8,400.4 273.2,401.5 273.6,400.6 274,401.6 274.4,400.1 274.8,401.3 275.2,400.3 275.6,401.4 276,400.4 276.4,401.6 276.8,400.1 277.2,401.7 277.6,400.4 278,401.2 278.4,400.4 278.8,401.7 279.2,400.6 279.6,401.3 280,400.3 280.4,401.8 280.8,400.5 281.2,401.4 281.6,400.4 282,401.7 282.4,400.4 282.8,401.7 283.2,400.3 283.6,401.7 284,400.2 284.4,401.2 284.8,400.4 285.2,401.3 285.6,400.2 286,401.5 286.4,400.4 286.8,401.7 287.2,400.3 287.6,401.2 288,400.4 288.4,401.2 288.8,400.2 289.2,401.3 289.6,400.5 290,401.3 290.4,400.3 290.8,401.6 291.2,400.1 291.6,401.2 292,400.5 292.4,401.6 292.8,400.4 293.2,401.5 293.6,400.4 294,401.3 294.4,400.2 294.8,401.4 295.2,400.2 295.6,401.4 296,400.1 296.4,401.6 296.8,400.2 297.2,401.2 297.6,400.1 298,401.3 298.4,400.1 298.8,401.2 299.2,400.1 299.6,401.7 300,400.2 300.4,401.2 300.8,400.4 301.2,401.2 301.6,400.3 302,401.7 302.4,400.2 302.8,401.5 303.2,400.6 303.6,401.6 304,400.2 304.4,401.2 304.8,400.1 305.2,401.2 305.6,400.2 306,401.4 306.4,400.4 306.8,401.2 307.2,400.1 307.6,401.2 308,400.2 308.4,401.3 308.8,400.1 309.2,401.3 309.6,400.2 310,401.6 310.4,400.1 310.8,401.5 311.2,400.2 311.6,401.2 312,400.4 312.4,401.5 312.8,400.6 313.2,401.6 313.6,400.2 314,401.2 314.4,400.6 314.8,401.3 315.2,400.6 315.6,401.7 316,400.5 316.4,401.3 316.8,400.4 317.2,401.2 317.6,400.1 318,401.6 318.4,400.2 318.8,401.4 319.2,400.4 319.6,401.4 320,400.3 320.4,401.3 320.8,400.5 321.2,401.3 321.6,400.1 322,401.6 322.4,400.2 322.8,401.6 323.2,400.4 323.6,401.6 324,400.4 324.4,401.5 324.8,400.3 325.2,401.3 325.6,400.6 326,401.6 326.4,400.3 326.8,401.2 327.2,400.2 327.6,401.7 328,400.2 328.4,401.2 328.8,400.5 329.2,401.2 329.6,400.3 330,401.7 330.4,400.2 330.4,400.9" fill="none" stroke="#ff0000" stroke-width="0.9" stroke-linejoin="round" clip-path="url(#cl3)"/>
<rect x="48.9" y="356.3" width="281.5" height="89.5" fill="none" stroke="#000" stroke-width="1.05"/>
<rect x="48.9" y="356.3" width="96" height="18.6" fill="#fff" stroke="#5c5c5c" stroke-width="1"/>
<line x1="50.9" y1="365.3" x2="81.5" y2="365.3" stroke="#ff0000" stroke-width="1.1"/>
<clipPath id="cr0"><rect x="401.3" y="4.5" width="276.1" height="88.2"/></clipPath>
<path d="M428.9 92.2v-4.8M428.9 4.5v4.8M456.5 92.2v-4.8M456.5 4.5v4.8M484.1 92.2v-4.8M484.1 4.5v4.8M511.7 92.2v-4.8M511.7 4.5v4.8M539.4 92.2v-4.8M539.4 4.5v4.8M567 92.2v-4.8M567 4.5v4.8M594.6 92.2v-4.8M594.6 4.5v4.8M622.2 92.2v-4.8M622.2 4.5v4.8M649.8 92.2v-4.8M649.8 4.5v4.8M415.1 92.2v-2.7M415.1 4.5v2.7M442.7 92.2v-2.7M442.7 4.5v2.7M470.3 92.2v-2.7M470.3 4.5v2.7M497.9 92.2v-2.7M497.9 4.5v2.7M525.5 92.2v-2.7M525.5 4.5v2.7M553.2 92.2v-2.7M553.2 4.5v2.7M580.8 92.2v-2.7M580.8 4.5v2.7M608.4 92.2v-2.7M608.4 4.5v2.7M636 92.2v-2.7M636 4.5v2.7M663.6 92.2v-2.7M663.6 4.5v2.7M401.3 33.7h4.8M677.4 33.7h-4.8M401.3 63h4.8M677.4 63h-4.8" stroke="#000" stroke-width="1.05" fill="none"/>
<polyline points="401.3,91.6 421.5,91.6 428.3,90.4 431.3,88 432.8,83.2 433.4,76.9 434.2,84.1 435.6,89 438.1,91.2 442,91.6 442.8,90.4 443.6,91.6 446.9,91.2 451.8,90 456.7,88 460.6,83.2 463.5,77.3 465.3,70.4 466.3,74.4 467.9,61.3 468.6,72.4 470.4,81.2 472.4,86.1 474.3,88.5 474.9,87.5 476.3,90.4 478.2,91.2 480.2,89 481.7,90 483.1,91.2 486,91.6 488,90.6 492,91 497.8,90 503.7,88.6 509.6,87.9 512.5,84.1 515.4,79.3 518,74.8 519.4,77.3 521.3,73.4 522.9,68.5 524,70.8 526,62.2 527.6,72.8 528.7,74 530.7,68.9 532.3,72.8 533.4,72 535.4,76.7 537,74.8 539.3,79.8 541.3,74.8 542.8,79.3 545.2,76.9 547.7,78.3 550.7,79.8 554.6,82.6 560.5,85.7 566.3,89 571.2,91.6 575.1,91.6 580,88.5 583,86.5 588.9,83.8 593.8,80.2 597.1,76.3 599,71.4 601,70.5 602.6,68.9 604.1,60.7 605.7,47 607.5,37.6 609.4,40.7 610.8,38.2 612.5,31.7 613.7,38.2 615.3,48.9 616.7,53.8 618.2,64.6 619.6,77.3 620.8,84.1 621.7,77.9 622.9,74.8 623.7,76.3 625.3,69.5 626.4,67.5 627.6,68.5 629.6,61.6 631.3,52.8 632.9,42.1 634.5,32.3 635.8,29.4 637.2,34.8 638.8,44 640.3,56.8 641.7,67.5 642.9,73.4 644.1,75.9 645.6,72.4 647.2,71.4 648.8,74.8 651.5,79.3 655.4,82.2 660.3,84.1 665.2,84.5 670.1,86.5 676.5,88.1" fill="none" stroke="#000" stroke-width="1.2" stroke-linejoin="round" clip-path="url(#cr0)"/>
<rect x="401.3" y="4.5" width="276.1" height="87.7" fill="none" stroke="#000" stroke-width="1.05"/>
<rect x="401.3" y="4.5" width="102.6" height="18.6" fill="#fff" stroke="#5c5c5c" stroke-width="1"/>
<line x1="403.3" y1="13.5" x2="433.9" y2="13.5" stroke="#000" stroke-width="1.1"/>
<clipPath id="cr1"><rect x="401.3" y="136.4" width="276.1" height="88.2"/></clipPath>
<path d="M428.9 224.1v-4.8M428.9 136.4v4.8M456.5 224.1v-4.8M456.5 136.4v4.8M484.1 224.1v-4.8M484.1 136.4v4.8M511.7 224.1v-4.8M511.7 136.4v4.8M539.4 224.1v-4.8M539.4 136.4v4.8M567 224.1v-4.8M567 136.4v4.8M594.6 224.1v-4.8M594.6 136.4v4.8M622.2 224.1v-4.8M622.2 136.4v4.8M649.8 224.1v-4.8M649.8 136.4v4.8M415.1 224.1v-2.7M415.1 136.4v2.7M442.7 224.1v-2.7M442.7 136.4v2.7M470.3 224.1v-2.7M470.3 136.4v2.7M497.9 224.1v-2.7M497.9 136.4v2.7M525.5 224.1v-2.7M525.5 136.4v2.7M553.2 224.1v-2.7M553.2 136.4v2.7M580.8 224.1v-2.7M580.8 136.4v2.7M608.4 224.1v-2.7M608.4 136.4v2.7M636 224.1v-2.7M636 136.4v2.7M663.6 224.1v-2.7M663.6 136.4v2.7M401.3 158.3h4.8M677.4 158.3h-4.8M401.3 180.2h4.8M677.4 180.2h-4.8M401.3 202.2h4.8M677.4 202.2h-4.8" stroke="#000" stroke-width="1.05" fill="none"/>
<polyline points="401.3,212.2 402.3,208.3 403.3,205.3 404.3,216.1 405.8,220.4 407.8,221.6 409.7,220 411.7,221.2 413.7,220.4 415.6,219.6 417.6,221.6 419.5,222 421.5,220.4 423.4,221.2 425.4,222 427.4,222.4 428.7,220 429.9,213.2 432.2,211.8 434.2,210.2 436.2,207.3 437.9,202.4 439.5,207.3 441.1,210.2 442.6,208.7 444,212.2 445.4,207.9 446.9,211.8 448.1,205.9 449.3,216.1 450.4,204.4 451.2,217.1 452.4,183.2 453.4,210.2 454.4,194.6 455.3,181.3 456.3,198.5 457.1,191.6 458.3,209.3 459.2,202.4 460.2,194.2 461.4,208.3 462.6,213.2 463.8,204.4 464.9,200.1 466.1,212.2 467.1,208.3 468.4,221 470,216.1 471.4,219 473.3,214.1 474.9,219 476.3,220.4 478.2,219.6 480.2,221.6 483.1,221 484.7,223 486.5,219 488.6,214.5 490,220 492,222 493.9,217.1 495.9,219 497.8,216.1 499.4,210.2 501.4,209.3 503.3,207.9 504.5,214.1 505.7,201.4 506.8,197.5 508,215.7 509.6,201.4 511.1,204.4 513.5,211.2 515.4,216.1 517.4,215.1 519.4,216.5 521.3,208.3 523.3,202.4 525.6,202 527.2,208.3 529.1,218.1 530.7,222 532.7,220 534.6,221.6 536.6,222.4 538.5,220.4 540.5,214.5 541.7,216.1 542.8,213.8 544.8,219 546.8,217.1 548.7,218.1 551.1,215.1 553.6,211.2 555.6,207.3 557.5,206.7 559.5,208.3 561.4,212.2 563.4,214.5 565.3,212.2 567.3,209.3 568.7,213.2 569.6,217.1 570.8,207.3 572.2,198.5 574.1,197.5 576.1,193.6 578.1,187.7 579.6,178.9 581,176.6 582.4,183.8 583.6,179 584.6,177 586.5,175 588.5,177 589.8,175.4 591.2,181.9 592.8,174 594.4,168.2 595.5,170.1 597.1,180.5 598.7,177 600.2,175.4 601.8,178.9 603.7,186.4 605.3,181.3 606.5,177 607.9,178.5 608.8,176 610,182.8 610.8,187.7 612,186.4 613.5,189.7 614.7,196.5 615.9,205.3 617.2,203.4 618.2,208.3 619.2,214.1 620.6,205.3 621.7,199.5 623.1,200.5 624.5,198.5 626.1,205.3 627.6,210.2 629,213.2 631,214.1 632.9,218.1 635.4,210.2 637.4,213.2 638.8,217.1 640.1,222.4 641.7,216.1 643.7,213.2 645.6,217.1 647.6,214.5 649.1,213.8 650.7,217.1 651.9,223 653.5,220 655.4,218.1 657.4,217.1 659.3,219 660.9,220.4 662.8,218.1 665.2,216.1 667.5,213.2 669.1,215.1 670.7,220.4 672,221 673.4,216.1 675,208.3 676.2,206.3 677,208" fill="none" stroke="#ff8510" stroke-width="1.2" stroke-linejoin="round" clip-path="url(#cr1)"/>
<rect x="401.3" y="136.4" width="276.1" height="87.7" fill="none" stroke="#000" stroke-width="1.05"/>
<rect x="401.3" y="136.4" width="95.3" height="18.6" fill="#fff" stroke="#5c5c5c" stroke-width="1"/>
<line x1="403.3" y1="145.4" x2="433.9" y2="145.4" stroke="#ff8510" stroke-width="1.1"/>
<clipPath id="cr2"><rect x="401.3" y="243.5" width="276.1" height="88.2"/></clipPath>
<path d="M428.9 331.2v-4.8M428.9 243.5v4.8M456.5 331.2v-4.8M456.5 243.5v4.8M484.1 331.2v-4.8M484.1 243.5v4.8M511.7 331.2v-4.8M511.7 243.5v4.8M539.4 331.2v-4.8M539.4 243.5v4.8M567 331.2v-4.8M567 243.5v4.8M594.6 331.2v-4.8M594.6 243.5v4.8M622.2 331.2v-4.8M622.2 243.5v4.8M649.8 331.2v-4.8M649.8 243.5v4.8M415.1 331.2v-2.7M415.1 243.5v2.7M442.7 331.2v-2.7M442.7 243.5v2.7M470.3 331.2v-2.7M470.3 243.5v2.7M497.9 331.2v-2.7M497.9 243.5v2.7M525.5 331.2v-2.7M525.5 243.5v2.7M553.2 331.2v-2.7M553.2 243.5v2.7M580.8 331.2v-2.7M580.8 243.5v2.7M608.4 331.2v-2.7M608.4 243.5v2.7M636 331.2v-2.7M636 243.5v2.7M663.6 331.2v-2.7M663.6 243.5v2.7M401.3 265.4h4.8M677.4 265.4h-4.8M401.3 287.4h4.8M677.4 287.4h-4.8M401.3 309.3h4.8M677.4 309.3h-4.8M401.3 254.5h2.7M677.4 254.5h-2.7M401.3 276.4h2.7M677.4 276.4h-2.7M401.3 298.3h2.7M677.4 298.3h-2.7M401.3 320.2h2.7M677.4 320.2h-2.7" stroke="#000" stroke-width="1.05" fill="none"/>
<polyline points="401.3,322.1 403.5,323.1 405.4,325.5 407.4,324.1 409.4,326 411.3,324.7 413.3,322.3 415.2,323.5 417.2,322.7 419.1,324.7 421.1,324.1 423,326 425.4,327.4 427.4,326.6 429.3,328.2 431.3,326.6 433.2,329 435.2,327.4 436.7,321.1 438.1,314.3 439.3,309.4 440.5,315.3 441.4,323.1 442.4,314.3 443.2,325.1 444.2,314.3 445.4,304.5 446.3,295.7 447.1,281.6 447.9,305.5 448.9,304.5 449.9,314.3 451.2,312.3 452.4,314.9 453.6,310.4 454.8,320.2 456.3,318.2 457.9,322.1 459.4,318.2 461,316.3 462.2,322.1 463.6,324.7 465.1,327.4 466.9,329 468.8,328 470.8,325.5 472.8,326.6 474.7,324.7 476.7,327.4 478.6,326 480.6,324.1 482.5,325.1 484.5,327.4 486.5,325.5 488.4,323.5 490.4,326 492.3,328.3 494.3,330.2 496.1,325.7 498.2,326.6 500.2,325.5 502.1,327.4 504.1,329.4 506.6,327 509.6,326 511.9,325.1 514.5,325.5 517,324.1 519.4,326 521.7,324.1 523.7,322.7 525.8,319.6 527.8,322.1 530.1,321.5 532.1,322.3 534,319.2 535.4,316.3 537.4,317.6 539.3,315.3 541.3,311 543.2,309.4 545.2,305.5 547.1,302.6 549.1,297.7 551.1,291.8 553,288.3 555,287.5 556.5,284 558.1,278.5 559.7,281 561.2,274.2 562.8,268.3 564.4,267.3 565.9,271.2 567.5,272.6 568.9,275.2 570.2,271.2 571.6,271.8 573.2,279.1 575.1,289.8 577.1,300.6 579,299.6 580.4,302.6 582,310.4 583.5,315.3 585.3,312.9 587,315.3 588.9,321 590.8,318.8 592.8,323.1 594,327.4 595.1,323.1 597.1,325.1 599,324.1 601,326.6 603,327.4 604.9,326 606.9,328.6 608.8,329.4 611.4,328 613.9,328.2 615.5,326.6 617.1,329 618.6,326 619.8,325.1 621.4,327.4 621.7,329" fill="none" stroke="#2272e2" stroke-width="1.2" stroke-linejoin="round" clip-path="url(#cr2)"/>
<rect x="401.3" y="243.5" width="276.1" height="87.7" fill="none" stroke="#000" stroke-width="1.05"/>
<rect x="401.3" y="243.5" width="92.6" height="18.6" fill="#fff" stroke="#5c5c5c" stroke-width="1"/>
<line x1="403.3" y1="252.5" x2="433.9" y2="252.5" stroke="#2272e2" stroke-width="1.1"/>
<clipPath id="cr3"><rect x="401.3" y="350.6" width="276.1" height="88.2"/></clipPath>
<path d="M428.9 438.3v-4.8M428.9 350.6v4.8M456.5 438.3v-4.8M456.5 350.6v4.8M484.1 438.3v-4.8M484.1 350.6v4.8M511.7 438.3v-4.8M511.7 350.6v4.8M539.4 438.3v-4.8M539.4 350.6v4.8M567 438.3v-4.8M567 350.6v4.8M594.6 438.3v-4.8M594.6 350.6v4.8M622.2 438.3v-4.8M622.2 350.6v4.8M649.8 438.3v-4.8M649.8 350.6v4.8M415.1 438.3v-2.7M415.1 350.6v2.7M442.7 438.3v-2.7M442.7 350.6v2.7M470.3 438.3v-2.7M470.3 350.6v2.7M497.9 438.3v-2.7M497.9 350.6v2.7M525.5 438.3v-2.7M525.5 350.6v2.7M553.2 438.3v-2.7M553.2 350.6v2.7M580.8 438.3v-2.7M580.8 350.6v2.7M608.4 438.3v-2.7M608.4 350.6v2.7M636 438.3v-2.7M636 350.6v2.7M663.6 438.3v-2.7M663.6 350.6v2.7M401.3 368.1h4.8M677.4 368.1h-4.8M401.3 385.7h4.8M677.4 385.7h-4.8M401.3 403.2h4.8M677.4 403.2h-4.8M401.3 420.8h4.8M677.4 420.8h-4.8" stroke="#000" stroke-width="1.05" fill="none"/>
<polyline points="401.3,436 402.9,433 404.8,431.7 406.8,429.1 408.2,430.5 409.4,428.1 410.7,430.1 412.1,427.8 413.3,429.1 414.2,427.2 415.6,431.1 417.2,433 418.5,435.6 419.9,434.4 421.5,431.1 423,427.2 424.4,424.6 425.8,426.2 427,423.3 428.1,425.2 429.3,417.4 430.5,424.2 431.7,429.1 432.6,410.5 433.4,394.5 434.4,402.7 435.2,400.8 436.2,410.5 437.1,418.4 438.3,426.2 439.5,433 440.5,435 441.4,430.1 442.6,426.6 443.6,430.1 444.6,434.4 445.7,429.1 446.9,423.3 448.1,417.4 449.3,411.5 450.4,410.5 451.6,413.5 452.8,415.4 454,414.5 455.1,421.3 456.3,429.1 457.5,421.3 458.7,414.5 459.8,409.6 461,408.6 462.2,400.8 463.4,401.7 464.3,398.4 465.3,408.6 466.1,406.6 466.9,418.4 467.7,426.2 468.8,412.5 470,404.7 471.2,402.7 472.4,403.7 473.3,414.5 474.3,424.2 475.5,417.4 476.7,411.5 477.8,412.5 479,411.5 480.2,413.5 481.2,409.6 482.1,414.8 483.3,404.7 484.5,393.9 485.7,383.1 486.7,375.3 487.4,372.4 488.4,376.3 489.6,386.1 490.8,378.2 491.5,376.3 492.7,381.2 493.7,392.4 494.7,401.2 495.8,395.9 496.8,396.8 497.8,407.6 499.4,392.9 500.6,403.7 501.7,409.6 502.9,403.7 504.1,397.8 505.3,392.9 506.2,388.6 507.2,395.3 508.4,386.1 509.6,373.4 510.7,369.8 511.9,371 512.7,376.3 513.7,371.4 514.7,370.4 515.6,378.2 516.6,388 517.6,377.3 518.6,371.4 519.4,381.2 520.3,396.8 521.3,414.5 522.1,428.1 523.1,408.6 524.1,396.8 524.8,406.6 525.6,422.3 526.4,431.1 527.4,423.8 528.4,429.1 529.3,432.1 530.7,431.7 531.9,433 533.1,433.6 534.2,422.3 535.4,415.4 536.6,413.5 537.6,411.5 538.7,417.4 539.9,422.3 540.9,426.2 542.1,419.3 543.2,427.2 544.2,429.1 545.2,417.4 546.4,408.6 547.3,404.7 548.3,410.5 549.3,422.3 550.3,432.1 551.3,420.3 552.2,409.6 553.4,414.5 554.6,421.3 555.8,428.1 556.9,422.3 557.9,419.3 559.1,423.3 560.3,427.2 561.4,423.3 562.8,419.3 564,417.4 565.1,422.3 566.3,427.2 567.5,430.1 568.7,436 569.8,430.1 571,426.2 572.2,428.1 573.4,426.2 574.5,429.1 575.7,424.2 576.9,417.4 578.1,411.5 579,410.5 580,419.3 581,429.7 582,420.3 583.2,411.5 584.5,408.6 585.7,412.5 586.9,419.3 588.5,417.4 589.8,419.3 591.2,426.2 592.4,433 593.6,424.2 594.7,419.3 595.9,421.3 597.1,419.3 598.7,416.8 600,414.1 601,413.5 601.8,421.3 603,428.5 604.1,428.1 605.5,429.7 607.5,432.5 609.4,435.6 611.4,438.3" fill="none" stroke="#ff0000" stroke-width="1.2" stroke-linejoin="round" clip-path="url(#cr3)"/>
<rect x="401.3" y="350.6" width="276.1" height="87.7" fill="none" stroke="#000" stroke-width="1.05"/>
<rect x="401.3" y="350.6" width="94.2" height="18.6" fill="#fff" stroke="#5c5c5c" stroke-width="1"/>
<line x1="403.3" y1="359.6" x2="433.9" y2="359.6" stroke="#ff0000" stroke-width="1.1"/>
<line x1="612.7" y1="21.3" x2="627.8" y2="26.2" stroke="#000" stroke-width="1.1"/>
<polygon points="634,28.2 627.2,28 628.4,24.4" fill="#000"/>
<line x1="616.3" y1="160" x2="601.9" y2="164.6" stroke="#ff8510" stroke-width="1.1"/>
<polygon points="595.7,166.6 601.3,162.8 602.5,166.4" fill="#ff8510"/>
<line x1="587.8" y1="257.5" x2="574" y2="262.3" stroke="#2272e2" stroke-width="1.1"/>
<polygon points="567.9,264.4 573.4,260.5 574.7,264.1" fill="#2272e2"/>
<line x1="538.9" y1="363" x2="521.4" y2="366.6" stroke="#ff0000" stroke-width="1.1"/>
<polygon points="515,367.9 521,364.7 521.7,368.5" fill="#ff0000"/>
<defs><filter id="nf" filterUnits="userSpaceOnUse" x="0" y="0" width="685" height="511" color-interpolation-filters="sRGB"><feColorMatrix type="saturate" values="1"/></filter></defs>
<g filter="url(#nf)">
<text x="84.5" y="17.8" font-size="14.2" textLength="67.4" lengthAdjust="spacingAndGlyphs">ACC sensor</text>
<text x="48.9" y="107.9" font-size="11.3" font-weight="bold" text-anchor="middle">0</text>
<text x="105.2" y="107.9" font-size="11.3" font-weight="bold" text-anchor="middle">1</text>
<text x="161.5" y="107.9" font-size="11.3" font-weight="bold" text-anchor="middle">2</text>
<text x="217.8" y="107.9" font-size="11.3" font-weight="bold" text-anchor="middle">3</text>
<text x="274.1" y="107.9" font-size="11.3" font-weight="bold" text-anchor="middle">4</text>
<text x="330.4" y="107.9" font-size="11.3" font-weight="bold" text-anchor="middle">5</text>
<text x="44.1" y="7.6" font-size="11.3" font-weight="bold" text-anchor="end">1.6</text>
<text x="44.1" y="30" font-size="11.3" font-weight="bold" text-anchor="end">0.8</text>
<text x="44.1" y="52.4" font-size="11.3" font-weight="bold" text-anchor="end">0.0</text>
<text x="44.1" y="74.7" font-size="11.3" font-weight="bold" text-anchor="end">-0.8</text>
<text x="44.1" y="97.1" font-size="11.3" font-weight="bold" text-anchor="end">-1.6</text>
<text transform="translate(17.5 4.5) rotate(-90)" font-size="13.3" word-spacing="2.2" font-weight="bold" text-anchor="end">ACC (m/s<tspan font-size="7.8" dy="-5">2</tspan><tspan dy="5">)</tspan></text>
<text x="84.5" y="151.9" font-size="14.2" textLength="58.7" lengthAdjust="spacingAndGlyphs">HONOR 9</text>
<text x="48.9" y="242" font-size="11.3" font-weight="bold" text-anchor="middle">0</text>
<text x="105.2" y="242" font-size="11.3" font-weight="bold" text-anchor="middle">1</text>
<text x="161.5" y="242" font-size="11.3" font-weight="bold" text-anchor="middle">2</text>
<text x="217.8" y="242" font-size="11.3" font-weight="bold" text-anchor="middle">3</text>
<text x="274.1" y="242" font-size="11.3" font-weight="bold" text-anchor="middle">4</text>
<text x="330.4" y="242" font-size="11.3" font-weight="bold" text-anchor="middle">5</text>
<text x="44.1" y="141.7" font-size="11.3" font-weight="bold" text-anchor="end">0.2</text>
<text x="44.1" y="164.1" font-size="11.3" font-weight="bold" text-anchor="end">0.1</text>
<text x="44.1" y="186.4" font-size="11.3" font-weight="bold" text-anchor="end">0.0</text>
<text x="44.1" y="208.8" font-size="11.3" font-weight="bold" text-anchor="end">-0.1</text>
<text x="44.1" y="231.2" font-size="11.3" font-weight="bold" text-anchor="end">-0.2</text>
<text transform="translate(17.5 138.6) rotate(-90)" font-size="13.3" word-spacing="2.2" font-weight="bold" text-anchor="end">ACC (m/s<tspan font-size="7.8" dy="-5">2</tspan><tspan dy="5">)</tspan></text>
<text x="84.5" y="260.9" font-size="14.2" textLength="55.2" lengthAdjust="spacingAndGlyphs">HUAWEI</text>
<text x="48.9" y="351" font-size="11.3" font-weight="bold" text-anchor="middle">0</text>
<text x="105.2" y="351" font-size="11.3" font-weight="bold" text-anchor="middle">1</text>
<text x="161.5" y="351" font-size="11.3" font-weight="bold" text-anchor="middle">2</text>
<text x="217.8" y="351" font-size="11.3" font-weight="bold" text-anchor="middle">3</text>
<text x="274.1" y="351" font-size="11.3" font-weight="bold" text-anchor="middle">4</text>
<text x="330.4" y="351" font-size="11.3" font-weight="bold" text-anchor="middle">5</text>
<text x="44.1" y="250.7" font-size="11.3" font-weight="bold" text-anchor="end">6</text>
<text x="44.1" y="273.1" font-size="11.3" font-weight="bold" text-anchor="end">3</text>
<text x="44.1" y="295.5" font-size="11.3" font-weight="bold" text-anchor="end">0</text>
<text x="44.1" y="317.8" font-size="11.3" font-weight="bold" text-anchor="end">-3</text>
<text x="44.1" y="340.2" font-size="11.3" font-weight="bold" text-anchor="end">-6</text>
<text transform="translate(25.5 247.6) rotate(-90)" font-size="13.3" word-spacing="2.2" font-weight="bold" text-anchor="end">ACC (m/s<tspan font-size="7.8" dy="-5">2</tspan><tspan dy="5">)</tspan></text>
<text x="84.5" y="370.1" font-size="14.2" textLength="58.4" lengthAdjust="spacingAndGlyphs">Xiaomi 11</text>
<text x="48.9" y="460.2" font-size="11.3" font-weight="bold" text-anchor="middle">0</text>
<text x="105.2" y="460.2" font-size="11.3" font-weight="bold" text-anchor="middle">1</text>
<text x="161.5" y="460.2" font-size="11.3" font-weight="bold" text-anchor="middle">2</text>
<text x="217.8" y="460.2" font-size="11.3" font-weight="bold" text-anchor="middle">3</text>
<text x="274.1" y="460.2" font-size="11.3" font-weight="bold" text-anchor="middle">4</text>
<text x="330.4" y="460.2" font-size="11.3" font-weight="bold" text-anchor="middle">5</text>
<text x="44.1" y="359.9" font-size="11.3" font-weight="bold" text-anchor="end">15.0</text>
<text x="44.1" y="382.3" font-size="11.3" font-weight="bold" text-anchor="end">7.5</text>
<text x="44.1" y="404.7" font-size="11.3" font-weight="bold" text-anchor="end">0.0</text>
<text x="44.1" y="427" font-size="11.3" font-weight="bold" text-anchor="end">-7.5</text>
<text x="44.1" y="449.4" font-size="11.3" font-weight="bold" text-anchor="end">-15.0</text>
<text transform="translate(12 356.8) rotate(-90)" font-size="13.3" word-spacing="2.2" font-weight="bold" text-anchor="end">ACC (m/s<tspan font-size="7.8" dy="-5">2</tspan><tspan dy="5">)</tspan></text>
<text x="436.9" y="18.3" font-size="14.2" textLength="65" lengthAdjust="spacingAndGlyphs">ACC sensor</text>
<text x="401.3" y="106.6" font-size="11.3" font-weight="bold" text-anchor="middle">0</text>
<text x="428.9" y="106.6" font-size="11.3" font-weight="bold" text-anchor="middle">20</text>
<text x="456.5" y="106.6" font-size="11.3" font-weight="bold" text-anchor="middle">40</text>
<text x="484.1" y="106.6" font-size="11.3" font-weight="bold" text-anchor="middle">60</text>
<text x="511.7" y="106.6" font-size="11.3" font-weight="bold" text-anchor="middle">80</text>
<text x="539.4" y="106.6" font-size="11.3" font-weight="bold" text-anchor="middle">100</text>
<text x="567" y="106.6" font-size="11.3" font-weight="bold" text-anchor="middle">120</text>
<text x="594.6" y="106.6" font-size="11.3" font-weight="bold" text-anchor="middle">140</text>
<text x="622.2" y="106.6" font-size="11.3" font-weight="bold" text-anchor="middle">160</text>
<text x="649.8" y="106.6" font-size="11.3" font-weight="bold" text-anchor="middle">180</text>
<text x="677.4" y="106.6" font-size="11.3" font-weight="bold" text-anchor="middle">200</text>
<text x="396.5" y="8.1" font-size="11.3" font-weight="bold" text-anchor="end">30</text>
<text x="396.5" y="37.3" font-size="11.3" font-weight="bold" text-anchor="end">20</text>
<text x="396.5" y="66.6" font-size="11.3" font-weight="bold" text-anchor="end">10</text>
<text x="396.5" y="95.8" font-size="11.3" font-weight="bold" text-anchor="end">0</text>
<text transform="translate(376.4 5) rotate(-90)" font-size="13.3" word-spacing="2.2" font-weight="bold" text-anchor="end">ACC (m/s<tspan font-size="7.8" dy="-5">2</tspan><tspan dy="5">)</tspan></text>
<text x="436.9" y="150.2" font-size="14.2" textLength="57.7" lengthAdjust="spacingAndGlyphs">HONOR 9</text>
<text x="401.3" y="238.5" font-size="11.3" font-weight="bold" text-anchor="middle">0</text>
<text x="428.9" y="238.5" font-size="11.3" font-weight="bold" text-anchor="middle">20</text>
<text x="456.5" y="238.5" font-size="11.3" font-weight="bold" text-anchor="middle">40</text>
<text x="484.1" y="238.5" font-size="11.3" font-weight="bold" text-anchor="middle">60</text>
<text x="511.7" y="238.5" font-size="11.3" font-weight="bold" text-anchor="middle">80</text>
<text x="539.4" y="238.5" font-size="11.3" font-weight="bold" text-anchor="middle">100</text>
<text x="567" y="238.5" font-size="11.3" font-weight="bold" text-anchor="middle">120</text>
<text x="594.6" y="238.5" font-size="11.3" font-weight="bold" text-anchor="middle">140</text>
<text x="622.2" y="238.5" font-size="11.3" font-weight="bold" text-anchor="middle">160</text>
<text x="649.8" y="238.5" font-size="11.3" font-weight="bold" text-anchor="middle">180</text>
<text x="677.4" y="238.5" font-size="11.3" font-weight="bold" text-anchor="middle">200</text>
<text x="396.5" y="140" font-size="11.3" font-weight="bold" text-anchor="end">2.0</text>
<text x="396.5" y="161.9" font-size="11.3" font-weight="bold" text-anchor="end">1.5</text>
<text x="396.5" y="183.8" font-size="11.3" font-weight="bold" text-anchor="end">1.0</text>
<text x="396.5" y="205.8" font-size="11.3" font-weight="bold" text-anchor="end">0.5</text>
<text x="396.5" y="227.7" font-size="11.3" font-weight="bold" text-anchor="end">0.0</text>
<text transform="translate(373.5 136.9) rotate(-90)" font-size="13.3" word-spacing="2.2" font-weight="bold" text-anchor="end">ACC (m/s<tspan font-size="7.8" dy="-5">2</tspan><tspan dy="5">)</tspan></text>
<text x="436.9" y="257.3" font-size="14.2" textLength="55" lengthAdjust="spacingAndGlyphs">HUAWEI</text>
<text x="401.3" y="345.6" font-size="11.3" font-weight="bold" text-anchor="middle">0</text>
<text x="428.9" y="345.6" font-size="11.3" font-weight="bold" text-anchor="middle">20</text>
<text x="456.5" y="345.6" font-size="11.3" font-weight="bold" text-anchor="middle">40</text>
<text x="484.1" y="345.6" font-size="11.3" font-weight="bold" text-anchor="middle">60</text>
<text x="511.7" y="345.6" font-size="11.3" font-weight="bold" text-anchor="middle">80</text>
<text x="539.4" y="345.6" font-size="11.3" font-weight="bold" text-anchor="middle">100</text>
<text x="567" y="345.6" font-size="11.3" font-weight="bold" text-anchor="middle">120</text>
<text x="594.6" y="345.6" font-size="11.3" font-weight="bold" text-anchor="middle">140</text>
<text x="622.2" y="345.6" font-size="11.3" font-weight="bold" text-anchor="middle">160</text>
<text x="649.8" y="345.6" font-size="11.3" font-weight="bold" text-anchor="middle">180</text>
<text x="677.4" y="345.6" font-size="11.3" font-weight="bold" text-anchor="middle">200</text>
<text x="396.5" y="247.1" font-size="11.3" font-weight="bold" text-anchor="end">80</text>
<text x="396.5" y="269" font-size="11.3" font-weight="bold" text-anchor="end">60</text>
<text x="396.5" y="291" font-size="11.3" font-weight="bold" text-anchor="end">40</text>
<text x="396.5" y="312.9" font-size="11.3" font-weight="bold" text-anchor="end">20</text>
<text x="396.5" y="334.8" font-size="11.3" font-weight="bold" text-anchor="end">0</text>
<text transform="translate(376.4 244) rotate(-90)" font-size="13.3" word-spacing="2.2" font-weight="bold" text-anchor="end">ACC (m/s<tspan font-size="7.8" dy="-5">2</tspan><tspan dy="5">)</tspan></text>
<text x="436.9" y="364.4" font-size="14.2" textLength="56.6" lengthAdjust="spacingAndGlyphs">Xiaomi 11</text>
<text x="401.3" y="452.7" font-size="11.3" font-weight="bold" text-anchor="middle">0</text>
<text x="428.9" y="452.7" font-size="11.3" font-weight="bold" text-anchor="middle">20</text>
<text x="456.5" y="452.7" font-size="11.3" font-weight="bold" text-anchor="middle">40</text>
<text x="484.1" y="452.7" font-size="11.3" font-weight="bold" text-anchor="middle">60</text>
<text x="511.7" y="452.7" font-size="11.3" font-weight="bold" text-anchor="middle">80</text>
<text x="539.4" y="452.7" font-size="11.3" font-weight="bold" text-anchor="middle">100</text>
<text x="567" y="452.7" font-size="11.3" font-weight="bold" text-anchor="middle">120</text>
<text x="594.6" y="452.7" font-size="11.3" font-weight="bold" text-anchor="middle">140</text>
<text x="622.2" y="452.7" font-size="11.3" font-weight="bold" text-anchor="middle">160</text>
<text x="649.8" y="452.7" font-size="11.3" font-weight="bold" text-anchor="middle">180</text>
<text x="677.4" y="452.7" font-size="11.3" font-weight="bold" text-anchor="middle">200</text>
<text x="396.5" y="354.2" font-size="11.3" font-weight="bold" text-anchor="end">100</text>
<text x="396.5" y="371.7" font-size="11.3" font-weight="bold" text-anchor="end">80</text>
<text x="396.5" y="389.3" font-size="11.3" font-weight="bold" text-anchor="end">60</text>
<text x="396.5" y="406.8" font-size="11.3" font-weight="bold" text-anchor="end">40</text>
<text x="396.5" y="424.4" font-size="11.3" font-weight="bold" text-anchor="end">20</text>
<text x="396.5" y="441.9" font-size="11.3" font-weight="bold" text-anchor="end">0</text>
<text transform="translate(371.4 351.1) rotate(-90)" font-size="13.3" word-spacing="2.2" font-weight="bold" text-anchor="end">ACC (m/s<tspan font-size="7.8" dy="-5">2</tspan><tspan dy="5">)</tspan></text>
<text x="560.2" y="21.6" font-size="14" font-weight="bold" textLength="49.6" lengthAdjust="spacingAndGlyphs">169.9 Hz</text>
<text x="619.2" y="162" font-size="14" font-weight="bold" textLength="49.6" lengthAdjust="spacingAndGlyphs">139.7 Hz</text>
<text x="595.1" y="262.3" font-size="14" font-weight="bold" textLength="49.6" lengthAdjust="spacingAndGlyphs">118.0 Hz</text>
<text x="540.4" y="367.8" font-size="14" font-weight="bold" textLength="42.8" lengthAdjust="spacingAndGlyphs">79.6 Hz</text>
<text x="190" y="480.5" font-size="13.7" font-weight="bold" text-anchor="middle">Time (s)</text>
<text x="540.3" y="473.5" font-size="13.7" font-weight="bold" text-anchor="middle">Frequency (Hz)</text>
<text x="23.5" y="507.2" font-size="15.8" textLength="305.5" lengthAdjust="spacingAndGlyphs">(e) acceleration curve of fast sampling frequency</text>
<text x="357" y="507.2" font-size="15.8" textLength="303" lengthAdjust="spacingAndGlyphs">(f) spectrum analysis of fast sampling frequency</text>
</g>
</svg></body></html>
